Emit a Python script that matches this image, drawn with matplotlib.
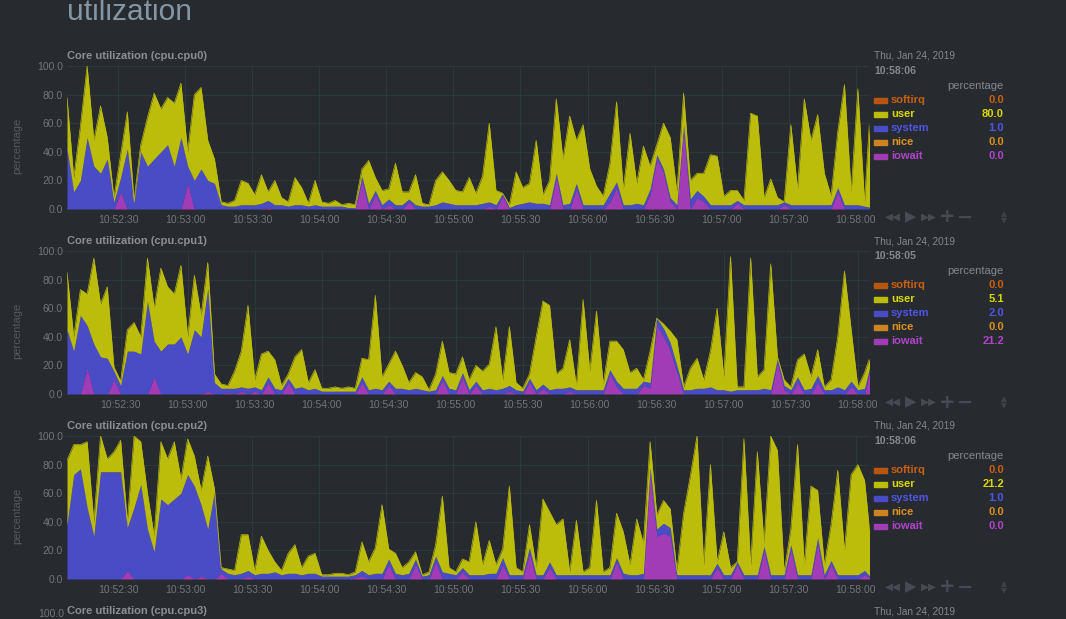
import numpy as np
import matplotlib
matplotlib.use("Agg")
import matplotlib.pyplot as plt
from matplotlib.patches import Rectangle

### Data (one sample every 3 s)

chart_ids = ["cpu.cpu0", "cpu.cpu1", "cpu.cpu2"]
window_start = ["10:52:07", "10:52:06", "10:52:07"]
window_end = ["10:58:06", "10:58:05", "10:58:06"]
time_labels = ["10:52:30", "10:53:00", "10:53:30", "10:54:00", "10:54:30", "10:55:00",
               "10:55:30", "10:56:00", "10:56:30", "10:57:00", "10:57:30", "10:58:00"]
y_ticks = [0.0, 20.0, 40.0, 60.0, 80.0, 100.0]
step = 3
dimensions = ["softirq", "user", "system", "nice", "iowait"]

# cpu0
user0 = [36, 10, 38, 50, 18, 47, 15, 3, 16, 26, 2, 5, 34, 46, 30, 33, 44, 38, 10, 60,
         57, 28, 17, 2, 2, 4, 17, 15, 7, 20, 6, 17, 5, 3, 19, 12, 2, 17, 3, 2,
         4, 1, 3, 2, 5, 30, 9, 10, 7, 29, 9, 5, 21, 2, 1, 17, 21, 16, 10, 9,
         19, 8, 19, 55, 10, 0, 2, 23, 11, 13, 44, 6, 17, 52, 32, 61, 30, 56, 25, 13,
         6, 21, 56, 11, 50, 14, 41, 16, 7, 32, 42, 9, 22, 13, 12, 16, 35, 34, 6, 10,
         7, 3, 64, 62, 5, 18, 5, 0, 56, 11, 74, 45, 63, 22, 6, 39, 84, 9, 81, 3, 80]
system0 = [42, 12, 20, 50, 30, 25, 35, 5, 10, 42, 4, 40, 30, 35, 40, 45, 30, 50, 12, 20,
           28, 20, 18, 3, 2, 2, 3, 3, 3, 4, 5, 3, 3, 2, 3, 3, 2, 3, 2, 2,
           2, 2, 1, 1, 3, 4, 3, 3, 4, 3, 3, 2, 3, 2, 2, 3, 5, 4, 3, 3,
           3, 3, 4, 3, 3, 2, 1, 3, 4, 5, 4, 4, 3, 3, 3, 4, 4, 3, 3, 3,
           3, 6, 4, 3, 3, 4, 3, 4, 3, 3, 3, 3, 2, 7, 5, 4, 3, 3, 3, 3,
           2, 3, 3, 3, 3, 3, 3, 2, 3, 3, 3, 3, 3, 3, 3, 3, 3, 3, 3, 2, 1]
iowait0 = [0, 0, 0, 0, 0, 0, 0, 0, 12, 0, 0, 0, 0, 0, 0, 0, 0, 0, 18, 0,
           0, 0, 0, 0, 0, 0, 0, 0, 0, 0, 1, 0, 0, 0, 0, 0, 0, 0, 0, 0,
           0, 0, 0, 0, 20, 0, 10, 0, 3, 0, 0, 5, 0, 0, 0, 0, 0, 0, 0, 0,
           0, 0, 0, 2, 0, 9, 0, 0, 0, 0, 0, 0, 0, 22, 0, 0, 14, 0, 0, 0,
           0, 5, 15, 0, 0, 0, 0, 10, 35, 25, 5, 0, 57, 0, 8, 5, 0, 0, 0, 0,
           4, 0, 0, 0, 0, 0, 0, 3, 0, 0, 0, 0, 0, 0, 0, 12, 0, 0, 0, 0, 0]

# cpu1
user1 = [40, 10, 18, 22, 60, 37, 50, 3, 3, 15, 20, 12, 30, 23, 58, 40, 35, 50, 12, 38,
         15, 18, 6, 3, 2, 12, 25, 58, 5, 25, 18, 20, 3, 3, 22, 26, 5, 13, 2, 2,
         3, 2, 3, 2, 13, 21, 65, 9, 12, 26, 16, 5, 11, 9, 1, 11, 24, 11, 11, 11,
         7, 11, 13, 17, 44, 6, 41, 5, 2, 3, 37, 58, 59, 10, 14, 33, 3, 63, 13, 55,
         4, 20, 28, 27, 11, 14, 1, 22, 0, 3, 8, 18, 2, 15, 21, 6, 25, 57, 9, 94,
         2, 2, 92, 9, 13, 88, 1, 4, 2, 12, 25, 8, 18, 2, 7, 35, 83, 36, 2, 11, 5.1]
system1 = [45, 30, 55, 30, 35, 26, 25, 6, 6, 30, 30, 28, 65, 25, 30, 35, 35, 40, 28, 45,
           40, 72, 8, 4, 3, 4, 3, 4, 3, 3, 4, 4, 3, 3, 4, 5, 3, 4, 2, 2,
           2, 2, 2, 2, 4, 3, 4, 3, 3, 4, 4, 3, 4, 3, 2, 3, 3, 4, 3, 3,
           3, 3, 3, 4, 3, 4, 4, 3, 2, 3, 3, 3, 3, 4, 4, 3, 3, 3, 3, 3,
           3, 3, 4, 4, 4, 4, 3, 4, 5, 6, 6, 5, 3, 3, 4, 4, 5, 3, 3, 2,
           3, 3, 3, 3, 4, 3, 3, 3, 3, 4, 3, 4, 5, 3, 3, 5, 3, 4, 3, 4, 2]
iowait1 = [0, 0, 0, 18, 0, 0, 0, 10, 0, 0, 0, 0, 0, 12, 0, 0, 0, 0, 0, 0,
           0, 2, 0, 0, 1, 0, 2, 0, 2, 0, 8, 0, 0, 8, 0, 0, 0, 0, 0, 0,
           0, 0, 0, 0, 8, 0, 0, 0, 6, 0, 0, 0, 0, 0, 0, 0, 10, 0, 0, 12,
           0, 6, 0, 0, 0, 0, 2, 0, 0, 8, 0, 4, 0, 0, 0, 2, 0, 0, 0, 0,
           0, 14, 5, 0, 0, 0, 6, 4, 48, 40, 30, 15, 0, 0, 0, 0, 0, 0, 0, 0,
           0, 0, 0, 0, 0, 0, 22, 3, 0, 8, 0, 0, 8, 0, 0, 0, 0, 5, 0, 0, 21.2]

# cpu2
user2 = [45, 21, 17, 46, 10, 25, 9, 14, 22, 4, 50, 30, 25, 11, 40, 32, 40, 10, 25, 21,
         10, 51, 2, 1, 3, 3, 27, 25, 3, 26, 16, 7, 3, 14, 20, 5, 12, 14, 1, 1,
         2, 2, 1, 2, 20, 9, 18, 48, 7, 14, 5, 8, 5, 1, 2, 8, 53, 4, 2, 6,
         9, 37, 7, 23, 6, 6, 62, 5, 2, 16, 5, 53, 35, 35, 39, 2, 38, 2, 5, 52,
         2, 5, 31, 29, 7, 39, 21, 18, 10, 16, 13, 3, 43, 69, 97, 7, 77, 1, 30, 5,
         0, 95, 7, 86, 2, 97, 87, 2, 11, 91, 7, 62, 33, 7, 25, 73, 17, 70, 77, 63, 21.2]
system2 = [38, 73, 77, 50, 30, 75, 75, 75, 75, 30, 50, 66, 35, 19, 56, 52, 56, 60, 70, 65,
           50, 35, 61, 3, 4, 3, 4, 4, 3, 4, 4, 5, 3, 4, 4, 3, 4, 4, 2, 2,
           2, 2, 2, 2, 4, 3, 4, 4, 4, 4, 3, 4, 4, 2, 3, 4, 5, 4, 3, 3,
           3, 3, 3, 4, 4, 5, 3, 3, 3, 4, 3, 3, 4, 3, 3, 3, 3, 3, 3, 3,
           3, 3, 3, 4, 3, 3, 4, 3, 5, 7, 6, 3, 3, 3, 3, 3, 3, 3, 3, 3,
           2, 3, 3, 3, 3, 3, 3, 3, 3, 3, 3, 3, 4, 3, 3, 3, 3, 3, 3, 3, 1]
iowait2 = [0, 0, 0, 0, 0, 0, 0, 0, 0, 6, 0, 0, 0, 0, 0, 0, 0, 0, 3, 0,
           2, 0, 0, 4, 0, 0, 0, 2, 0, 0, 0, 0, 0, 0, 0, 0, 0, 0, 0, 0,
           0, 0, 0, 1, 2, 0, 0, 0, 10, 0, 0, 0, 10, 0, 0, 12, 0, 0, 0, 5,
           0, 0, 0, 0, 0, 10, 0, 0, 0, 18, 0, 0, 8, 0, 0, 0, 0, 0, 0, 0,
           0, 0, 12, 0, 0, 0, 0, 75, 30, 32, 30, 0, 0, 0, 0, 0, 0, 8, 0, 0,
           10, 0, 0, 0, 20, 0, 0, 0, 21, 0, 0, 0, 25, 0, 10, 0, 0, 0, 0, 3, 0]

# values shown in the legends (at the last timestamp)
legend_values = [[0.0, 80.0, 1.0, 0.0, 0.0],
                 [0.0, 5.1, 2.0, 0.0, 21.2],
                 [0.0, 21.2, 1.0, 0.0, 0.0]]

users = [user0, user1, user2]
systems = [system0, system1, system2]
iowaits = [iowait0, iowait1, iowait2]

### Style

BG = "#272b30"
GRID = "#2c3839"
TICK = "#72767b"
BTN = "#474a50"
fill_colors = {"softirq": "#b8560e", "user": "#bcbc0a", "system": "#4a4cc6",
               "nice": "#cc8420", "iowait": "#a23cb6"}
text_colors = {"softirq": "#c8600c", "user": "#d8d800", "system": "#5054e6",
               "nice": "#dc901c", "iowait": "#b044c8"}

plt.rcParams["font.family"] = ["Liberation Sans", "DejaVu Sans"]

W, H = 1066, 619
fig = plt.figure(figsize=(W / 100, H / 100), dpi=100)
fig.patch.set_facecolor(BG)


def to_sec(hms):
    h, m, s = hms.split(":")
    return int(h) * 3600 + int(m) * 60 + int(s)


# overlay in pixel coordinates for all the html-like texts
ov = fig.add_axes([0, 0, 1, 1], zorder=5)
ov.set_xlim(0, W)
ov.set_ylim(H, 0)
ov.axis("off")
ov.patch.set_alpha(0)

ov.text(67, 20, "utilization", fontsize=21.5, color="#8496a6", ha="left", va="baseline")

for k in range(3):
    top = 66 + 185 * k
    bottom = top + 143
    ax = fig.add_axes([67 / W, 1 - bottom / H, 802 / W, 143 / H])
    ax.set_facecolor(BG)

    t0 = to_sec(window_start[k])
    t1 = to_sec(window_end[k])
    x = np.arange(len(users[k])) * step
    base = np.zeros(len(x))
    for vals, name in [(iowaits[k], "iowait"), (systems[k], "system"), (users[k], "user")]:
        upper = base + np.array(vals, dtype=float)
        ax.fill_between(x, base, upper, color=fill_colors[name], linewidth=0, zorder=2)
        ax.plot(x, upper, color=fill_colors[name], linewidth=0.5, zorder=2)
        base = upper

    ax.set_xlim(0, t1 - t0)
    ax.set_ylim(0, 100)
    ax.set_xticks([to_sec(t) - t0 for t in time_labels])
    ax.set_xticklabels(time_labels)
    ax.set_yticks(y_ticks)
    ax.set_yticklabels(["%.1f" % v for v in y_ticks])
    ax.grid(color=GRID, linewidth=0.8, zorder=0)
    ax.set_axisbelow(True)
    for s in ax.spines.values():
        s.set_visible(False)
    ax.tick_params(length=0, labelsize=7.5, colors=TICK, pad=3)
    ax.tick_params(axis="x", pad=4)

    # title and y label
    ov.text(67, top - 10, "Core utilization (%s)" % chart_ids[k], fontsize=8, fontweight="bold",
            color="#8b8e92", ha="left", va="center")
    ov.text(17, top + 80, "percentage", fontsize=8, color="#56595e", rotation=90,
            ha="center", va="center")

    # legend block
    ov.text(874, top - 10, "Thu, Jan 24, 2019", fontsize=7.2, color="#85888c", va="center")
    ov.text(874, top + 5, window_end[k], fontsize=7.6, fontweight="bold", color="#85888c", va="center")
    ov.text(1004, top + 20, "percentage", fontsize=8, color="#85888c", ha="right", va="center")
    for j, name in enumerate(dimensions):
        yy = top + 34 + 14 * j
        ov.add_patch(Rectangle((874, yy - 2.5), 13, 5, color=fill_colors[name]))
        ov.text(891, yy, name, fontsize=8, fontweight="bold", color=text_colors[name], va="center")
        ov.text(1004, yy, "%.1f" % legend_values[k][j], fontsize=8, fontweight="bold",
                color=text_colors[name], ha="right", va="center")

    # navigation buttons
    yb = bottom + 8
    ov.text(893, yb, "◀◀", fontsize=7.5, color=BTN, family="DejaVu Sans",
            ha="center", va="center")
    ov.text(911, yb, "▶", fontsize=10.5, color=BTN, family="DejaVu Sans",
            ha="center", va="center")
    ov.text(929, yb, "▶▶", fontsize=7.5, color=BTN, family="DejaVu Sans",
            ha="center", va="center")
    ov.text(947, yb, "+", fontsize=14, fontweight="bold", color=BTN, family="DejaVu Sans",
            ha="center", va="center")
    ov.text(965, yb, "−", fontsize=14, fontweight="bold", color=BTN, family="DejaVu Sans",
            ha="center", va="center")
    ov.text(1004, yb - 3.5, "▲", fontsize=5.5, color="#3e4147", family="DejaVu Sans",
            ha="center", va="center")
    ov.text(1004, yb + 3.5, "▼", fontsize=5.5, color="#3e4147", family="DejaVu Sans",
            ha="center", va="center")

# start of the next chart, cut by the page
ov.text(67, 611, "Core utilization (cpu.cpu3)", fontsize=8, fontweight="bold",
        color="#8b8e92", ha="left", va="center")
ov.text(874, 611, "Thu, Jan 24, 2019", fontsize=7.2, color="#85888c", va="center")
ov.text(64, 619, "100.0", fontsize=7.5, color=TICK, ha="right", va="bottom")

fig.savefig("out.png", dpi=100, facecolor=BG)
